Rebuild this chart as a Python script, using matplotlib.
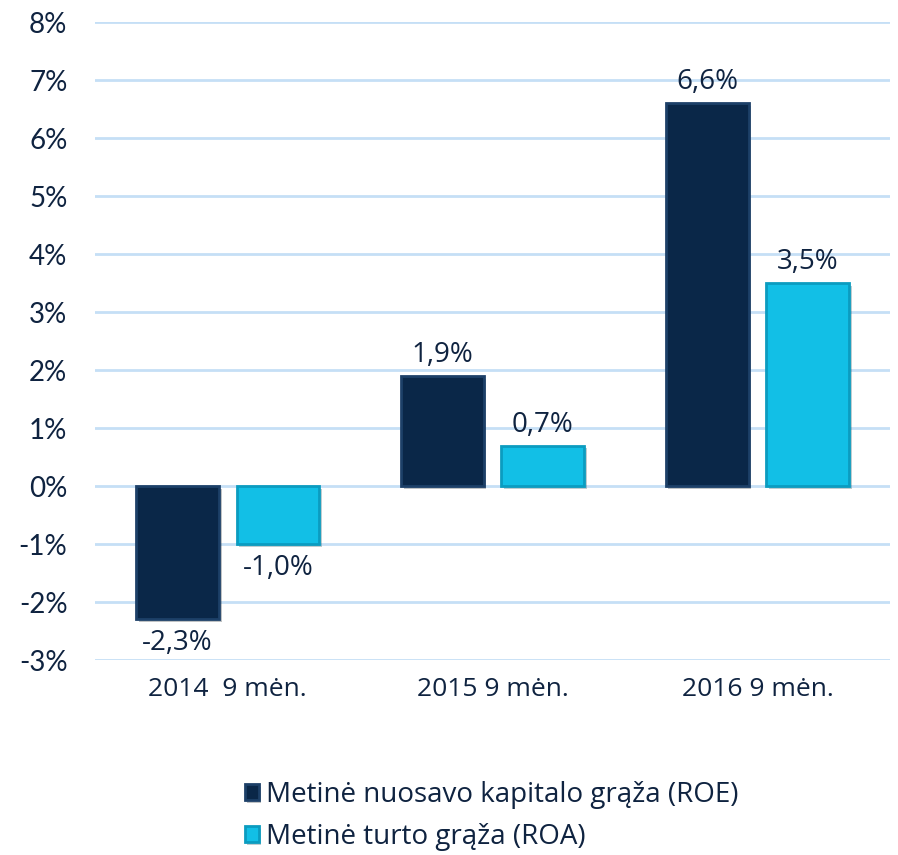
"""Metinė ROE ir ROA grąža – stulpelinė diagrama."""
import matplotlib
matplotlib.use("Agg")
import matplotlib.pyplot as plt
import matplotlib.ticker as ticker
import matplotlib.patheffects as pe
import numpy as np

categories = ["2014  9 mėn.", "2015 9 mėn.", "2016 9 mėn."]
roe = [-2.3, 1.9, 6.6]
roa = [-1.0, 0.7, 3.5]
series_names = ["Metinė nuosavo kapitalo grąža (ROE)", "Metinė turto grąža (ROA)"]

plt.rcParams["font.family"] = ["Open Sans", "DejaVu Sans"]
text_col = "#0f2340"

fig = plt.figure(figsize=(8.98, 8.55), dpi=100)
ax = fig.add_axes([0.106, 0.228, 0.885, 0.746])

x = np.arange(len(categories))
w = 0.313
off = 0.19
shadow = [pe.SimplePatchShadow(offset=(2, -2), alpha=0.25), pe.Normal()]
b1 = ax.bar(x - off, roe, w, color="#0a2748", edgecolor="#1d4068", linewidth=2,
            label=series_names[0], zorder=3, path_effects=shadow)
b2 = ax.bar(x + off, roa, w, color="#12bfe6", edgecolor="#0b9cc0", linewidth=2,
            label=series_names[1], zorder=3, path_effects=shadow)

for bars in (b1, b2):
    for bar in bars:
        v = bar.get_height()
        cx = bar.get_x() + bar.get_width() / 2
        txt = f"{v:.1f}%".replace(".", ",")
        if v >= 0:
            ax.annotate(txt, (cx, v), xytext=(0, 5), textcoords="offset points",
                        ha="center", va="bottom", fontsize=20, color=text_col)
        else:
            ax.annotate(txt, (cx, v), xytext=(0, -7), textcoords="offset points",
                        ha="center", va="top", fontsize=20, color=text_col)

ax.set_ylim(-3, 8)
ax.set_xlim(-0.5, 2.5)
ax.set_yticks(range(-3, 9))
ax.yaxis.set_major_formatter(ticker.FuncFormatter(lambda v, _: f"{v:.0f}%"))
ax.set_xticks(x)
ax.set_xticklabels(categories)
ax.tick_params(axis="y", length=0, labelsize=20, labelcolor=text_col, pad=20)
ax.tick_params(axis="x", length=0, labelsize=19, labelcolor=text_col, pad=12)
for lab in ax.get_yticklabels():
    lab.set_fontfamily(["Lato", "DejaVu Sans"])
ax.grid(axis="y", color="#c5dff6", linewidth=2, zorder=0)
ax.set_axisbelow(True)
for s in ax.spines.values():
    s.set_visible(False)

fig.legend(handles=[b1, b2], labels=series_names, loc="upper left",
           bbox_to_anchor=(0.257, 0.103), frameon=False, fontsize=20,
           labelcolor=text_col, handlelength=0.5, handleheight=0.5,
           handletextpad=0.25, labelspacing=0.5, borderpad=0)

fig.savefig("out.png", dpi=100)
print("Saved out.png")
